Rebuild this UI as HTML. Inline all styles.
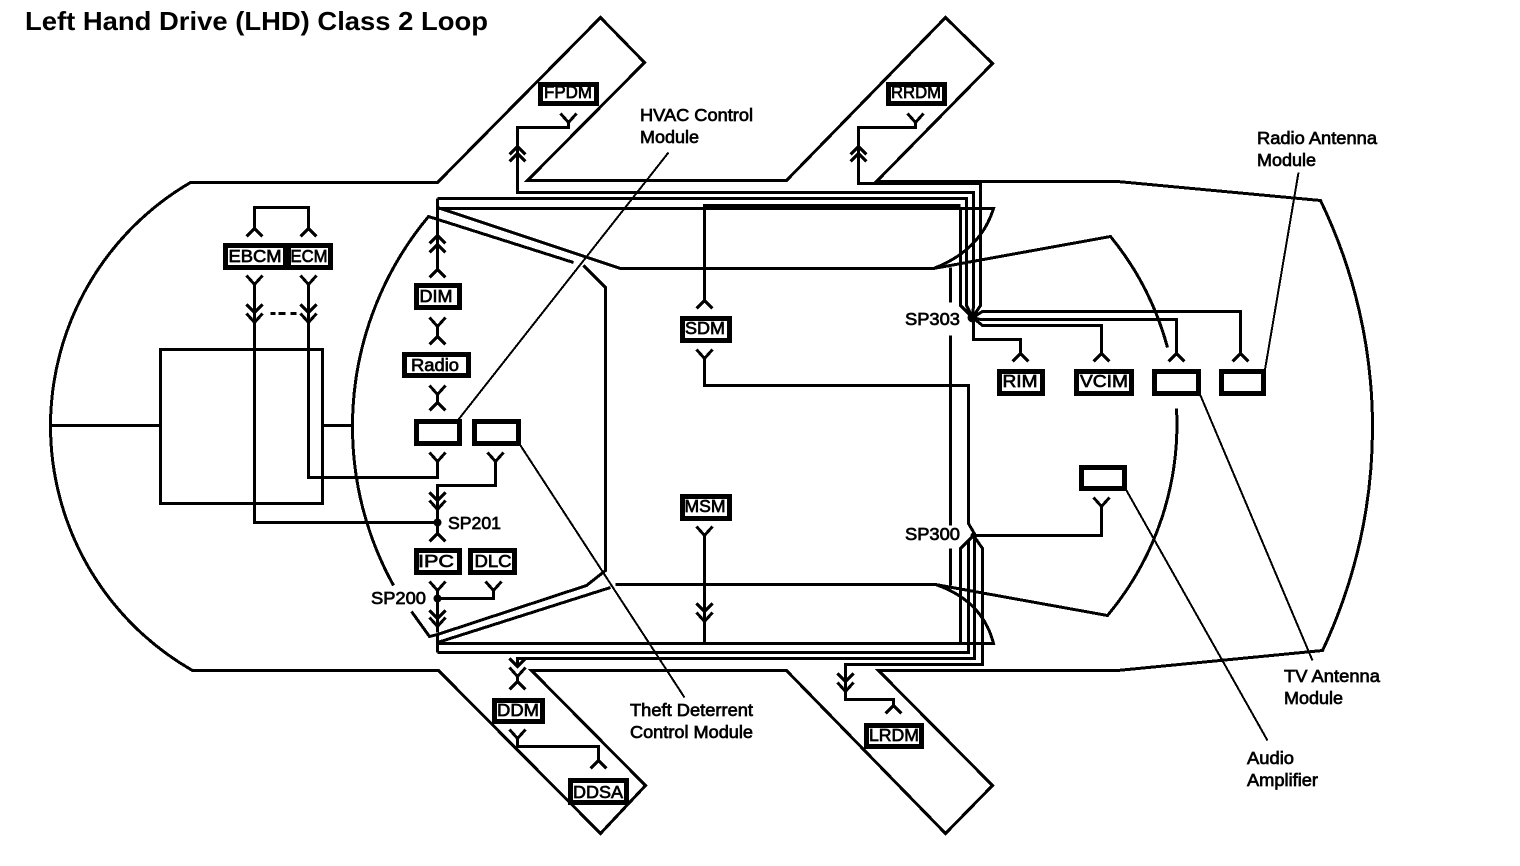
<!DOCTYPE html>
<html>
<head>
<meta charset="utf-8">
<title>Left Hand Drive (LHD) Class 2 Loop</title>
<style>
html,body{margin:0;padding:0;background:#fff;width:1520px;height:866px;overflow:hidden}
svg{display:block}
text{font-family:"Liberation Sans",sans-serif;fill:#000}
.l{font-size:17.5px;stroke:#000;stroke-width:.7}
.b{font-size:17.5px;stroke:#000;stroke-width:.7;text-anchor:middle}
.s{fill:none;stroke:#000;stroke-width:3;shape-rendering:crispEdges;stroke-linejoin:miter}
.w{fill:none;stroke:#000;stroke-width:3;shape-rendering:crispEdges}
.t{fill:none;stroke:#000;stroke-width:2;shape-rendering:crispEdges}
.box{fill:#fff;stroke:#000;stroke-width:5;shape-rendering:crispEdges}
</style>
</head>
<body>
<svg width="1520" height="866" viewBox="0 0 1520 866" xmlns="http://www.w3.org/2000/svg">
<defs>
<path id="y" d="M-8,-9 L0,0 L8,-9 M0,0 V6" fill="none" stroke="#000" stroke-width="3" shape-rendering="crispEdges"/>
<path id="h" d="M-8,8 L0,0 L8,8 M0,0 V-6" fill="none" stroke="#000" stroke-width="3" shape-rendering="crispEdges"/>
<path id="v" d="M-8,-7 L0,1 L8,-7" fill="none" stroke="#000" stroke-width="3" shape-rendering="crispEdges"/>
<path id="c" d="M-8,7 L0,-1 L8,7" fill="none" stroke="#000" stroke-width="3" shape-rendering="crispEdges"/>
</defs>

<text x="25" y="30" font-size="26" font-weight="700" textLength="463" lengthAdjust="spacingAndGlyphs">Left Hand Drive (LHD) Class 2 Loop</text>

<g transform="translate(.5,.5)">
<!-- car outline -->
<path class="s" d="M50,425 A282,282 0 0 1 190,182 H437 L600,17 L644,62 L527,180 H786 L945,17 L992,63 L876,181 H1117 L1320,200 A522,522 0 0 1 1372,425 A522,522 0 0 1 1322,650 L1117,670 H878 L992,785 L945,833 L786,670 H531 L645,785 L600,833 L438,670 H192 A282,282 0 0 1 50,425 Z"/>
<!-- engine block -->
<rect class="s" x="160" y="349" width="162" height="154"/>
<path class="s" d="M50,425 H160 M322,425 H352"/>
<!-- windshield / inner -->
<path class="s" d="M393,585 A328,328 0 0 1 352,425 A328,328 0 0 1 428,216 L573,262 M583,265 L605,287 V570 L586,585 L437,634 L429,636 L411,611"/>
<path class="s" d="M437,207 L620,268 H933 Q980,250 993,208 H437"/>
<path class="s" d="M437,642 L610,587 M615,584 H935 Q982,600 993,643 H437"/>
<!-- rear window -->
<path class="s" d="M933,268 L1110,236 A298,298 0 0 1 1167,347 M1176,408 A298,298 0 0 1 1107,615 L935,584"/>

<!-- wires -->
<path class="w" d="M568,122 V127 H517 V192 H973 V305 L972,317"/>
<path class="w" d="M915,122 V127 H858 V183 H980 V305 L972,317"/>
<path class="w" d="M437,198 H966 V305 L972,317"/>
<path class="w" d="M960,207 V305 L972,317"/>
<path class="w" d="M437,198 V269"/>
<path class="w" d="M704,300 V205 H960"/>
<path class="w" d="M950,267 V302 M950,335 V525 M950,548 V585"/>
<path class="w" d="M704,358 V385 H968 V523 L975,535"/>
<path class="w" d="M437,643 H960 V548 L973,535"/>
<path class="w" d="M437,652 H968 V540"/>
<path class="w" d="M517,665 V658 H974 V535"/>
<path class="w" d="M845,690 V664 H982 V548 L973,535"/>
<path class="w" d="M845,688 V699 H893 V705"/>
<path class="w" d="M437,634 V652"/>
<path class="w" d="M972,317 L982,311 H1240 V353"/>
<path class="w" d="M972,317 L980,319 H1176 V353"/>
<path class="w" d="M972,317 L982,325 H1101 V353"/>
<path class="w" d="M973,317 V339 H1020 V353"/>
<path class="w" d="M973,535 H1101 V505"/>
<path class="w" d="M704,535 V643"/>
<path class="w" d="M254,228 V207 H308 V228"/>
<path class="w" d="M254,283 V522 H437"/>
<path class="w" d="M308,283 V477 H437 V461"/>
<path class="w" d="M495,461 V485 H437 V533"/>
<path class="w" d="M437,590 V625"/>
<path class="w" d="M437,598 H493 V590"/>
<path class="w" d="M437,328 V335"/>
<path class="w" d="M270,313 H275 M278,313 H285 M290,313 H296"/>
<path class="w" d="M517,675 V681"/>
<path class="w" d="M517,738 V746 H598 V760"/>
<circle cx="437" cy="522" r="4"/>
<circle cx="437" cy="598" r="4"/>
<circle cx="972" cy="317" r="5"/>
<circle cx="973" cy="535" r="3"/>

<!-- leader lines -->
<path class="t" d="M668,152 L458,419 M1298,172 L1264,372 M1200,395 L1312,660 M1126,490 L1267,740 M520,445 L684,697"/>

<!-- connectors -->
<use href="#y" x="568" y="122"/>
<use href="#c" x="517" y="147"/><use href="#c" x="517" y="154"/>
<use href="#y" x="915" y="122"/>
<use href="#c" x="858" y="147"/><use href="#c" x="858" y="154"/>
<use href="#c" x="437" y="236"/><use href="#c" x="437" y="245"/>
<use href="#h" x="437" y="269"/>
<use href="#y" x="437" y="326"/><use href="#h" x="437" y="336"/>
<use href="#y" x="437" y="394"/><use href="#h" x="437" y="402"/>
<use href="#y" x="437" y="461"/><use href="#y" x="495" y="461"/>
<use href="#v" x="437" y="499"/><use href="#y" x="437" y="509"/>
<use href="#h" x="437" y="533"/>
<use href="#y" x="437" y="590"/><use href="#y" x="493" y="590"/>
<use href="#v" x="437" y="617"/><use href="#y" x="437" y="626"/>
<use href="#v" x="517" y="665"/><use href="#y" x="517" y="676"/>
<use href="#h" x="517" y="681"/>
<use href="#y" x="517" y="738"/><use href="#h" x="598" y="760"/>
<use href="#v" x="845" y="680"/><use href="#y" x="845" y="691"/>
<use href="#h" x="893" y="705"/>
<use href="#h" x="254" y="228"/><use href="#h" x="308" y="228"/>
<use href="#y" x="254" y="284"/><use href="#y" x="308" y="284"/>
<use href="#v" x="254" y="311"/><use href="#v" x="308" y="311"/>
<use href="#y" x="254" y="322"/><use href="#y" x="308" y="322"/>
<use href="#h" x="704" y="300"/>
<use href="#y" x="704" y="358"/>
<use href="#y" x="704" y="535"/>
<use href="#v" x="704" y="610"/><use href="#y" x="704" y="621"/>
<use href="#h" x="1020" y="353"/><use href="#h" x="1101" y="353"/>
<use href="#h" x="1176" y="353"/><use href="#h" x="1240" y="353"/>
<use href="#y" x="1101" y="506"/>

<!-- boxes -->
<rect class="box" x="540" y="84" width="56" height="19"/>
<rect class="box" x="888" y="84" width="56" height="19"/>
<rect class="box" x="225" y="245" width="60" height="22"/>
<rect class="box" x="288" y="245" width="42" height="22"/>
<rect class="box" x="416" y="285" width="43" height="22"/>
<rect class="box" x="404" y="354" width="64" height="21"/>
<rect class="box" x="416" y="421" width="43" height="22"/>
<rect class="box" x="474" y="421" width="44" height="22"/>
<rect class="box" x="416" y="550" width="43" height="22"/>
<rect class="box" x="470" y="550" width="44" height="22"/>
<rect class="box" x="494" y="700" width="48" height="21"/>
<rect class="box" x="570" y="780" width="56" height="22"/>
<rect class="box" x="866" y="725" width="55" height="21"/>
<rect class="box" x="682" y="318" width="47" height="22"/>
<rect class="box" x="682" y="496" width="47" height="22"/>
<rect class="box" x="999" y="371" width="43" height="22"/>
<rect class="box" x="1076" y="371" width="55" height="22"/>
<rect class="box" x="1154" y="371" width="44" height="22"/>
<rect class="box" x="1221" y="371" width="42" height="22"/>
<rect class="box" x="1081" y="467" width="43" height="21"/>
</g>

<!-- box text -->
<text class="b" x="568" y="98" textLength="48" lengthAdjust="spacingAndGlyphs">FPDM</text>
<text class="b" x="916" y="98" textLength="50" lengthAdjust="spacingAndGlyphs">RRDM</text>
<text class="b" x="255" y="262" textLength="53" lengthAdjust="spacingAndGlyphs">EBCM</text>
<text class="b" x="309" y="262" textLength="37" lengthAdjust="spacingAndGlyphs">ECM</text>
<text class="b" x="436" y="302" textLength="33" lengthAdjust="spacingAndGlyphs">DIM</text>
<text class="b" x="435" y="371" textLength="48" lengthAdjust="spacingAndGlyphs">Radio</text>
<text class="b" x="436" y="567" textLength="36" lengthAdjust="spacingAndGlyphs">IPC</text>
<text class="b" x="493" y="567" textLength="37" lengthAdjust="spacingAndGlyphs">DLC</text>
<text class="b" x="518" y="716" textLength="42" lengthAdjust="spacingAndGlyphs">DDM</text>
<text class="b" x="598" y="798" textLength="50" lengthAdjust="spacingAndGlyphs">DDSA</text>
<text class="b" x="894" y="741" textLength="50" lengthAdjust="spacingAndGlyphs">LRDM</text>
<text class="b" x="705" y="334" textLength="40" lengthAdjust="spacingAndGlyphs">SDM</text>
<text class="b" x="705" y="512" textLength="41" lengthAdjust="spacingAndGlyphs">MSM</text>
<text class="b" x="1020" y="387" textLength="35" lengthAdjust="spacingAndGlyphs">RIM</text>
<text class="b" x="1104" y="387" textLength="48" lengthAdjust="spacingAndGlyphs">VCIM</text>

<!-- labels -->
<text class="l" x="640" y="121" textLength="113" lengthAdjust="spacingAndGlyphs">HVAC Control</text>
<text class="l" x="640" y="143" textLength="59" lengthAdjust="spacingAndGlyphs">Module</text>
<text class="l" x="1257" y="144" textLength="120" lengthAdjust="spacingAndGlyphs">Radio Antenna</text>
<text class="l" x="1257" y="166" textLength="59" lengthAdjust="spacingAndGlyphs">Module</text>
<text class="l" x="1284" y="682" textLength="96" lengthAdjust="spacingAndGlyphs">TV Antenna</text>
<text class="l" x="1284" y="704" textLength="59" lengthAdjust="spacingAndGlyphs">Module</text>
<text class="l" x="1247" y="764" textLength="47" lengthAdjust="spacingAndGlyphs">Audio</text>
<text class="l" x="1247" y="786" textLength="71" lengthAdjust="spacingAndGlyphs">Amplifier</text>
<text class="l" x="630" y="716" textLength="123" lengthAdjust="spacingAndGlyphs">Theft Deterrent</text>
<text class="l" x="630" y="738" textLength="123" lengthAdjust="spacingAndGlyphs">Control Module</text>
<text class="l" x="905" y="325" textLength="55" lengthAdjust="spacingAndGlyphs">SP303</text>
<text class="l" x="905" y="540" textLength="55" lengthAdjust="spacingAndGlyphs">SP300</text>
<text class="l" x="448" y="529" textLength="53" lengthAdjust="spacingAndGlyphs">SP201</text>
<text class="l" x="371" y="604" textLength="55" lengthAdjust="spacingAndGlyphs">SP200</text>
</svg>
</body>
</html>
